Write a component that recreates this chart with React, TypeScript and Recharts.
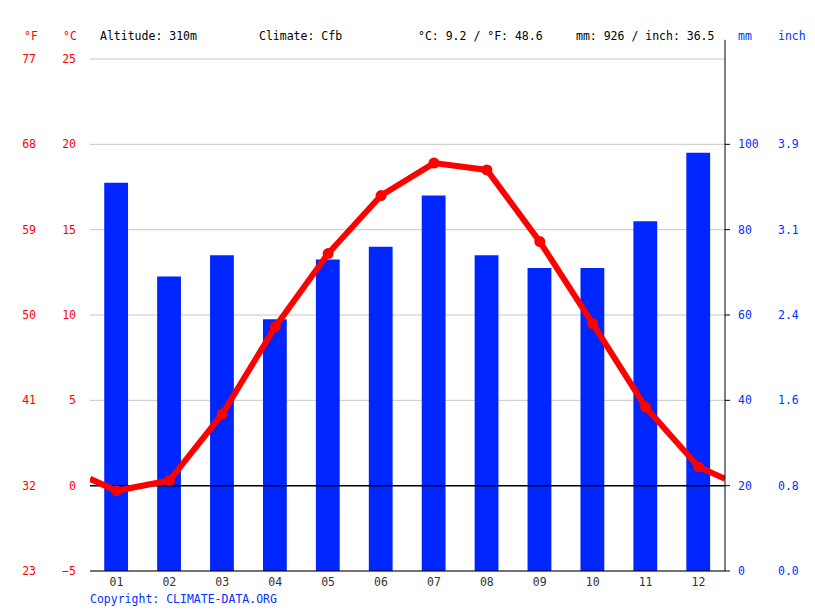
import React from 'react';
import {
  ComposedChart,
  Bar,
  Line,
  XAxis,
  YAxis,
  CartesianGrid,
  ReferenceLine,
} from 'recharts';

const months = ['01', '02', '03', '04', '05', '06', '07', '08', '09', '10', '11', '12'];
const precipMm = [91, 69, 74, 59, 73, 76, 88, 74, 71, 71, 82, 98];
const tempC = [-0.3, 0.3, 4.2, 9.3, 13.6, 17.0, 18.9, 18.5, 14.3, 9.5, 4.6, 1.1];
const edgeTempC = 0.4;
const tempTicks = [-5, 0, 5, 10, 15, 20, 25];
const celsiusLabels = ['−5', '0', '5', '10', '15', '20', '25'];
const fahrenheitLabels = ['23', '32', '41', '50', '59', '68', '77'];
const mmTicks = [0, 20, 40, 60, 80, 100];
const inchLabels = ['0.0', '0.8', '1.6', '2.4', '3.1', '3.9'];
const monthPositions = [1, 2, 3, 4, 5, 6, 7, 8, 9, 10, 11, 12];
const boundaryTicks = [0.5, 1.5, 2.5, 3.5, 4.5, 5.5, 6.5, 7.5, 8.5, 9.5, 10.5, 11.5, 12.5];
const axisTopMm = 124.5;

const data = [
  { x: 0.5, t: edgeTempC, edge: true },
  ...months.map((m, i) => ({ x: monthPositions[i], label: m, mm: precipMm[i], t: tempC[i], edge: false })),
  { x: 12.5, t: edgeTempC, edge: true },
];

const FONT = 'DejaVu Sans Mono';
const FS = 11.5;
const RED = '#ff0000';
const BLUE = '#0033ff';

const textStyle: React.CSSProperties = {
  position: 'absolute',
  fontFamily: FONT,
  fontSize: FS,
  lineHeight: '12px',
  whiteSpace: 'pre',
};

const LeftTick = (props: any) => {
  const { x, y, payload } = props;
  const i = tempTicks.indexOf(payload.value);
  return (
    <g>
      <text x={x} y={y} dy="0.355em" textAnchor="end" fill={RED} fontSize={FS} fontFamily={FONT}>
        {celsiusLabels[i]}
      </text>
      <text x={x - 40} y={y} dy="0.355em" textAnchor="end" fill={RED} fontSize={FS} fontFamily={FONT}>
        {fahrenheitLabels[i]}
      </text>
    </g>
  );
};

const RightTick = (props: any) => {
  const { x, y, payload } = props;
  const i = mmTicks.indexOf(payload.value);
  return (
    <g>
      <text x={x} y={y} dy="0.355em" textAnchor="start" fill={BLUE} fontSize={FS} fontFamily={FONT}>
        {String(mmTicks[i])}
      </text>
      <text x={x + 40} y={y} dy="0.355em" textAnchor="start" fill={BLUE} fontSize={FS} fontFamily={FONT}>
        {inchLabels[i]}
      </text>
    </g>
  );
};

export default function App() {
  return (
    <div style={{ position: 'absolute', left: 0, top: 0, width: 815, height: 611, background: '#fff' }}>
      <ComposedChart
        width={815}
        height={611}
        data={data}
        margin={{ top: 59, right: 0, bottom: 0, left: 0 }}
      >
        <CartesianGrid yAxisId="t" vertical={false} stroke="#c8c8c8" />
        <XAxis
          xAxisId="marks"
          type="number"
          dataKey="x"
          domain={[0.5, 12.5]}
          ticks={boundaryTicks}
          tick={false}
          tickSize={5}
          height={0}
          axisLine={false}
          tickLine={{ stroke: '#000' }}
          allowDataOverflow
        />
        <XAxis
          type="number"
          dataKey="x"
          domain={[0.5, 12.5]}
          ticks={monthPositions}
          tickFormatter={(v: number) => months[monthPositions.indexOf(v)] ?? ''}
          tickLine={false}
          tickSize={5}
          tickMargin={2}
          height={40}
          axisLine={{ stroke: '#000' }}
          tick={{ fill: '#333', fontSize: FS, fontFamily: FONT }}
          allowDataOverflow
        />
        <YAxis
          yAxisId="t"
          orientation="left"
          domain={[-5, 25]}
          ticks={tempTicks}
          width={90}
          tickSize={0}
          tickMargin={14}
          axisLine={false}
          tickLine={false}
          tick={<LeftTick />}
        />
        <YAxis
          yAxisId="mm"
          orientation="right"
          domain={[0, 120]}
          ticks={mmTicks}
          width={90}
          tickSize={5}
          tickMargin={8}
          axisLine={{ stroke: '#000' }}
          tickLine={{ stroke: '#000' }}
          tick={<RightTick />}
          allowDataOverflow
        />
        <Bar
          yAxisId="mm"
          dataKey="mm"
          fill="#0026ff"
          barSize={28}
          isAnimationActive={false}
        />
        <ReferenceLine yAxisId="t" y={0} stroke="#000" strokeWidth={1.5} />
        <ReferenceLine
          yAxisId="mm"
          segment={[
            { x: 12.5, y: 120 },
            { x: 12.5, y: axisTopMm },
          ]}
          stroke="#000"
          ifOverflow="visible"
        />
        <Line
          yAxisId="t"
          dataKey="t"
          type="linear"
          stroke={RED}
          strokeWidth={6}
          isAnimationActive={false}
          dot={(props: any) =>
            props.payload && props.payload.edge ? (
              <g key={`d${props.index}`} />
            ) : (
              <circle key={`d${props.index}`} cx={props.cx} cy={props.cy} r={5.5} fill={RED} />
            )
          }
          activeDot={false}
        />
      </ComposedChart>

      <div style={{ ...textStyle, left: 24, top: 30, color: RED }}>°F</div>
      <div style={{ ...textStyle, left: 63, top: 30, color: RED }}>°C</div>
      <div style={{ ...textStyle, left: 100, top: 30, color: '#000' }}>Altitude: 310m</div>
      <div style={{ ...textStyle, left: 259, top: 30, color: '#000' }}>Climate: Cfb</div>
      <div style={{ ...textStyle, left: 418, top: 30, color: '#000' }}>°C: 9.2 / °F: 48.6</div>
      <div style={{ ...textStyle, left: 576, top: 30, color: '#000' }}>mm: 926 / inch: 36.5</div>
      <div style={{ ...textStyle, left: 738, top: 30, color: BLUE }}>mm</div>
      <div style={{ ...textStyle, left: 778, top: 30, color: BLUE }}>inch</div>
      <div style={{ ...textStyle, left: 90, top: 593, color: BLUE }}>Copyright: CLIMATE-DATA.ORG</div>
    </div>
  );
}
